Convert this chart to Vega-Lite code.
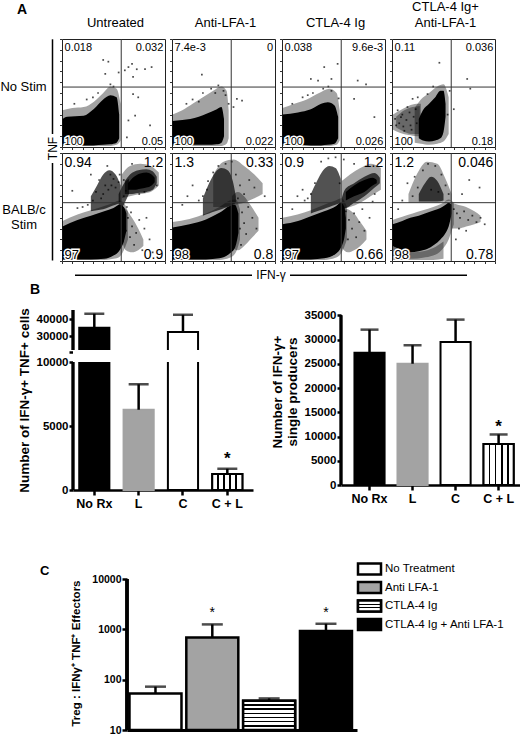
{
"$schema": "https://vega.github.io/schema/vega-lite/v6.json",
"padding": 0,
"background": "white",
"spacing": 0,
"config": {
  "font": "Liberation Sans",
  "view": {"stroke": null},
  "axis": {"grid": false, "domainColor": "black", "tickColor": "black", "labelColor": "black", "titleColor": "black", "labelOverlap": false, "labelSeparation": -40, "labelBound": false},
  "title": {"color": "black", "fontWeight": "normal"},
  "text": {"color": "black"}
},
"datasets": {
  "blobs": [
    {"p":"11","b":"a","k":"core","x":0.5,"hi":26,"lo":3},{"p":"11","b":"a","k":"core","x":5,"hi":28,"lo":2},{"p":"11","b":"a","k":"core","x":21,"hi":29,"lo":1.5},{"p":"11","b":"a","k":"core","x":30.6,"hi":35,"lo":1.5},{"p":"11","b":"a","k":"core","x":40,"hi":44,"lo":2},{"p":"11","b":"a","k":"core","x":47,"hi":48,"lo":2.5},{"p":"11","b":"a","k":"core","x":53,"hi":46,"lo":4},{"p":"11","b":"a","k":"core","x":55.5,"hi":30,"lo":8},
    {"p":"11","b":"m","k":"mist","x":0.5,"hi":34,"lo":1},{"p":"11","b":"m","k":"mist","x":10,"hi":36,"lo":1},{"p":"11","b":"m","k":"mist","x":21,"hi":37,"lo":1},{"p":"11","b":"m","k":"mist","x":31,"hi":42,"lo":1},{"p":"11","b":"m","k":"mist","x":40,"hi":50,"lo":1},{"p":"11","b":"m","k":"mist","x":47,"hi":56,"lo":1},{"p":"11","b":"m","k":"mist","x":53,"hi":54,"lo":2},{"p":"11","b":"m","k":"mist","x":57,"hi":40,"lo":6},
    {"p":"12","b":"a","k":"core","x":0.5,"hi":24,"lo":2.5},{"p":"12","b":"a","k":"core","x":10,"hi":25,"lo":2},{"p":"12","b":"a","k":"core","x":17.7,"hi":26,"lo":2},{"p":"12","b":"a","k":"core","x":26,"hi":28,"lo":2},{"p":"12","b":"a","k":"core","x":34,"hi":31,"lo":2},{"p":"12","b":"a","k":"core","x":43.5,"hi":35,"lo":2.5},{"p":"12","b":"a","k":"core","x":48,"hi":37,"lo":4},{"p":"12","b":"a","k":"core","x":50.5,"hi":26,"lo":10},
    {"p":"12","b":"m","k":"mist","x":0.5,"hi":30,"lo":1},{"p":"12","b":"m","k":"mist","x":10,"hi":34,"lo":1},{"p":"12","b":"m","k":"mist","x":20,"hi":40,"lo":1},{"p":"12","b":"m","k":"mist","x":30,"hi":46,"lo":1},{"p":"12","b":"m","k":"mist","x":40,"hi":52,"lo":1},{"p":"12","b":"m","k":"mist","x":48,"hi":56,"lo":1},{"p":"12","b":"m","k":"mist","x":53,"hi":52,"lo":3},{"p":"12","b":"m","k":"mist","x":55,"hi":34,"lo":8},
    {"p":"13","b":"a","k":"core","x":0.5,"hi":30,"lo":3},{"p":"13","b":"a","k":"core","x":15.5,"hi":32,"lo":2},{"p":"13","b":"a","k":"core","x":28,"hi":35,"lo":1.5},{"p":"13","b":"a","k":"core","x":38,"hi":40,"lo":1.5},{"p":"13","b":"a","k":"core","x":44.5,"hi":41.5,"lo":2},{"p":"13","b":"a","k":"core","x":51,"hi":38.5,"lo":3},{"p":"13","b":"a","k":"core","x":54.5,"hi":28,"lo":8},
    {"p":"13","b":"m","k":"mist","x":0.5,"hi":36,"lo":1},{"p":"13","b":"m","k":"mist","x":12,"hi":40,"lo":1},{"p":"13","b":"m","k":"mist","x":24,"hi":44,"lo":1},{"p":"13","b":"m","k":"mist","x":36,"hi":50,"lo":1},{"p":"13","b":"m","k":"mist","x":46,"hi":54,"lo":1},{"p":"13","b":"m","k":"mist","x":53,"hi":50,"lo":2},{"p":"13","b":"m","k":"mist","x":56,"hi":34,"lo":6},
    {"p":"14","b":"a","k":"core","x":26,"hi":26,"lo":8},{"p":"14","b":"a","k":"core","x":30,"hi":34,"lo":6},{"p":"14","b":"a","k":"core","x":36,"hi":40,"lo":5},{"p":"14","b":"a","k":"core","x":42,"hi":46,"lo":6},{"p":"14","b":"a","k":"core","x":47,"hi":52,"lo":8},{"p":"14","b":"a","k":"core","x":50,"hi":52,"lo":14},{"p":"14","b":"a","k":"core","x":52,"hi":40,"lo":28},
    {"p":"14","b":"h","k":"mist","x":1,"hi":30,"lo":16},{"p":"14","b":"h","k":"mist","x":8,"hi":34,"lo":13},{"p":"14","b":"h","k":"mist","x":16,"hi":38,"lo":11},{"p":"14","b":"h","k":"mist","x":24,"hi":40,"lo":10},{"p":"14","b":"h","k":"mist","x":28,"hi":40,"lo":10},
    {"p":"14","b":"n","k":"mist","x":4,"hi":28,"lo":18},{"p":"14","b":"n","k":"mist","x":12,"hi":34,"lo":14},{"p":"14","b":"n","k":"mist","x":20,"hi":37,"lo":12},{"p":"14","b":"n","k":"mist","x":27,"hi":38,"lo":12},
    {"p":"14","b":"m","k":"mist","x":22,"hi":36,"lo":4},{"p":"14","b":"m","k":"mist","x":28,"hi":44,"lo":3},{"p":"14","b":"m","k":"mist","x":36,"hi":50,"lo":2},{"p":"14","b":"m","k":"mist","x":44,"hi":56,"lo":3},{"p":"14","b":"m","k":"mist","x":50,"hi":58,"lo":5},{"p":"14","b":"m","k":"mist","x":55,"hi":46,"lo":12},
    {"p":"21","b":"a","k":"core","x":0.5,"hi":32,"lo":1.5},{"p":"21","b":"a","k":"core","x":15,"hi":38,"lo":1.5},{"p":"21","b":"a","k":"core","x":28,"hi":42,"lo":1.5},{"p":"21","b":"a","k":"core","x":41,"hi":46,"lo":2},{"p":"21","b":"a","k":"core","x":50,"hi":49,"lo":5},{"p":"21","b":"a","k":"core","x":56,"hi":52,"lo":10},{"p":"21","b":"a","k":"core","x":60,"hi":50,"lo":18},{"p":"21","b":"a","k":"core","x":62.5,"hi":44,"lo":28},
    {"p":"21","b":"b","k":"core","x":64,"hi":72,"lo":66},{"p":"21","b":"b","k":"core","x":70,"hi":78,"lo":66},{"p":"21","b":"b","k":"core","x":76,"hi":81,"lo":67},{"p":"21","b":"b","k":"core","x":82,"hi":82,"lo":68},{"p":"21","b":"b","k":"core","x":87,"hi":80,"lo":70},{"p":"21","b":"b","k":"core","x":90,"hi":77,"lo":73},
    {"p":"21","b":"h","k":"haze","x":61,"hi":74,"lo":62},{"p":"21","b":"h","k":"haze","x":66,"hi":80,"lo":62},{"p":"21","b":"h","k":"haze","x":74,"hi":84,"lo":63},{"p":"21","b":"h","k":"haze","x":82,"hi":85,"lo":64},{"p":"21","b":"h","k":"haze","x":88,"hi":83,"lo":66},{"p":"21","b":"h","k":"haze","x":92,"hi":78,"lo":72},
    {"p":"21","b":"c","k":"haze","x":55,"hi":62,"lo":50},{"p":"21","b":"c","k":"haze","x":58,"hi":68,"lo":50},{"p":"21","b":"c","k":"haze","x":62,"hi":74,"lo":56},{"p":"21","b":"c","k":"haze","x":65,"hi":76,"lo":62},
    {"p":"21","b":"d","k":"haze","x":28,"hi":60,"lo":46},{"p":"21","b":"d","k":"haze","x":34,"hi":70,"lo":47},{"p":"21","b":"d","k":"haze","x":40,"hi":80,"lo":48},{"p":"21","b":"d","k":"haze","x":46,"hi":84,"lo":50},{"p":"21","b":"d","k":"haze","x":52,"hi":80,"lo":52},{"p":"21","b":"d","k":"haze","x":57,"hi":70,"lo":54},
    {"p":"21","b":"f","k":"mist","x":58,"hi":50,"lo":20},{"p":"21","b":"f","k":"mist","x":62,"hi":48,"lo":10},{"p":"21","b":"f","k":"mist","x":68,"hi":40,"lo":8},{"p":"21","b":"f","k":"mist","x":74,"hi":30,"lo":10},{"p":"21","b":"f","k":"mist","x":79,"hi":20,"lo":14},
    {"p":"21","b":"g","k":"mist","x":0.5,"hi":37,"lo":1},{"p":"21","b":"g","k":"mist","x":15,"hi":43,"lo":1},{"p":"21","b":"g","k":"mist","x":28,"hi":47,"lo":1},{"p":"21","b":"g","k":"mist","x":41,"hi":51,"lo":1},{"p":"21","b":"g","k":"mist","x":50,"hi":54,"lo":2},{"p":"21","b":"g","k":"mist","x":56,"hi":56,"lo":4},{"p":"21","b":"g","k":"mist","x":60,"hi":54,"lo":10},{"p":"21","b":"g","k":"mist","x":64,"hi":46,"lo":20},
    {"p":"21","b":"e","k":"mist","x":58,"hi":80,"lo":58},{"p":"21","b":"e","k":"mist","x":66,"hi":88,"lo":60},{"p":"21","b":"e","k":"mist","x":76,"hi":90,"lo":62},{"p":"21","b":"e","k":"mist","x":86,"hi":88,"lo":64},{"p":"21","b":"e","k":"mist","x":94,"hi":82,"lo":70},
    {"p":"22","b":"a","k":"core","x":0.5,"hi":31,"lo":1.5},{"p":"22","b":"a","k":"core","x":17,"hi":34,"lo":1.5},{"p":"22","b":"a","k":"core","x":33,"hi":38.5,"lo":1.5},{"p":"22","b":"a","k":"core","x":46,"hi":44.6,"lo":2.5},{"p":"22","b":"a","k":"core","x":56,"hi":51,"lo":7},{"p":"22","b":"a","k":"core","x":61,"hi":52,"lo":12},{"p":"22","b":"a","k":"core","x":64.5,"hi":44,"lo":26},
    {"p":"22","b":"b","k":"haze","x":30,"hi":58,"lo":42},{"p":"22","b":"b","k":"haze","x":36,"hi":72,"lo":44},{"p":"22","b":"b","k":"haze","x":42,"hi":82,"lo":46},{"p":"22","b":"b","k":"haze","x":48,"hi":86,"lo":48},{"p":"22","b":"b","k":"haze","x":54,"hi":84,"lo":50},{"p":"22","b":"b","k":"haze","x":59,"hi":74,"lo":52},{"p":"22","b":"b","k":"haze","x":62,"hi":60,"lo":54},
    {"p":"22","b":"c","k":"mist","x":40,"hi":80,"lo":50},{"p":"22","b":"c","k":"mist","x":50,"hi":92,"lo":50},{"p":"22","b":"c","k":"mist","x":60,"hi":94,"lo":52},{"p":"22","b":"c","k":"mist","x":70,"hi":88,"lo":54},{"p":"22","b":"c","k":"mist","x":80,"hi":80,"lo":58},{"p":"22","b":"c","k":"mist","x":88,"hi":72,"lo":62},
    {"p":"22","b":"d","k":"mist","x":58,"hi":60,"lo":12},{"p":"22","b":"d","k":"mist","x":64,"hi":64,"lo":10},{"p":"22","b":"d","k":"mist","x":70,"hi":60,"lo":14},{"p":"22","b":"d","k":"mist","x":76,"hi":52,"lo":20},{"p":"22","b":"d","k":"mist","x":84,"hi":40,"lo":28},
    {"p":"22","b":"e","k":"mist","x":0.5,"hi":36,"lo":1},{"p":"22","b":"e","k":"mist","x":17,"hi":39,"lo":1},{"p":"22","b":"e","k":"mist","x":33,"hi":44,"lo":1},{"p":"22","b":"e","k":"mist","x":46,"hi":50,"lo":1},{"p":"22","b":"e","k":"mist","x":56,"hi":56,"lo":3},{"p":"22","b":"e","k":"mist","x":62,"hi":57,"lo":8},{"p":"22","b":"e","k":"mist","x":66,"hi":48,"lo":20},
    {"p":"23","b":"a","k":"core","x":0.5,"hi":34,"lo":1.5},{"p":"23","b":"a","k":"core","x":15.5,"hi":37,"lo":1.5},{"p":"23","b":"a","k":"core","x":28,"hi":41.5,"lo":1.5},{"p":"23","b":"a","k":"core","x":41,"hi":46,"lo":2.5},{"p":"23","b":"a","k":"core","x":52.6,"hi":51,"lo":7},{"p":"23","b":"a","k":"core","x":57,"hi":54,"lo":12},{"p":"23","b":"a","k":"core","x":60.6,"hi":50,"lo":22},{"p":"23","b":"a","k":"core","x":62,"hi":40,"lo":30},
    {"p":"23","b":"b","k":"core","x":62,"hi":64,"lo":56},{"p":"23","b":"b","k":"core","x":70,"hi":70,"lo":60},{"p":"23","b":"b","k":"core","x":80,"hi":75,"lo":64},{"p":"23","b":"b","k":"core","x":88,"hi":77,"lo":70},{"p":"23","b":"b","k":"core","x":92,"hi":75,"lo":72},
    {"p":"23","b":"s","k":"haze","x":58,"hi":58,"lo":50},{"p":"23","b":"s","k":"haze","x":61,"hi":66,"lo":49},{"p":"23","b":"s","k":"haze","x":70,"hi":72,"lo":54},{"p":"23","b":"s","k":"haze","x":80,"hi":78,"lo":60},{"p":"23","b":"s","k":"haze","x":90,"hi":81.5,"lo":68},{"p":"23","b":"s","k":"haze","x":95,"hi":77,"lo":72},
    {"p":"23","b":"c","k":"haze","x":28,"hi":62,"lo":44},{"p":"23","b":"c","k":"haze","x":34,"hi":74,"lo":46},{"p":"23","b":"c","k":"haze","x":40,"hi":84,"lo":48},{"p":"23","b":"c","k":"haze","x":46,"hi":88,"lo":50},{"p":"23","b":"c","k":"haze","x":52,"hi":86,"lo":52},{"p":"23","b":"c","k":"haze","x":57,"hi":76,"lo":54},
    {"p":"23","b":"d","k":"mist","x":58,"hi":50,"lo":12},{"p":"23","b":"d","k":"mist","x":64,"hi":48,"lo":8},{"p":"23","b":"d","k":"mist","x":70,"hi":44,"lo":10},{"p":"23","b":"d","k":"mist","x":76,"hi":36,"lo":14},{"p":"23","b":"d","k":"mist","x":82,"hi":28,"lo":20},
    {"p":"23","b":"e","k":"mist","x":58,"hi":74,"lo":48},{"p":"23","b":"e","k":"mist","x":66,"hi":80,"lo":50},{"p":"23","b":"e","k":"mist","x":76,"hi":86,"lo":54},{"p":"23","b":"e","k":"mist","x":86,"hi":90,"lo":60},{"p":"23","b":"e","k":"mist","x":96,"hi":86,"lo":66},
    {"p":"23","b":"f","k":"mist","x":0.5,"hi":40,"lo":1},{"p":"23","b":"f","k":"mist","x":15,"hi":43,"lo":1},{"p":"23","b":"f","k":"mist","x":28,"hi":47,"lo":1},{"p":"23","b":"f","k":"mist","x":41,"hi":52,"lo":1},{"p":"23","b":"f","k":"mist","x":52,"hi":56,"lo":3},{"p":"23","b":"f","k":"mist","x":58,"hi":58,"lo":8},{"p":"23","b":"f","k":"mist","x":63,"hi":50,"lo":20},
    {"p":"24","b":"a","k":"core","x":0.5,"hi":34,"lo":14},{"p":"24","b":"a","k":"core","x":10,"hi":37,"lo":10},{"p":"24","b":"a","k":"core","x":17.7,"hi":40,"lo":8},{"p":"24","b":"a","k":"core","x":26,"hi":42,"lo":9},{"p":"24","b":"a","k":"core","x":34,"hi":44.6,"lo":11},{"p":"24","b":"a","k":"core","x":41,"hi":47,"lo":15},{"p":"24","b":"a","k":"core","x":47,"hi":49,"lo":20},{"p":"24","b":"a","k":"core","x":52,"hi":52,"lo":26},{"p":"24","b":"a","k":"core","x":55,"hi":54,"lo":32},{"p":"24","b":"a","k":"core","x":58,"hi":52,"lo":44},
    {"p":"24","b":"b","k":"haze","x":26,"hi":62,"lo":55},{"p":"24","b":"b","k":"haze","x":32,"hi":72,"lo":55},{"p":"24","b":"b","k":"haze","x":38,"hi":78,"lo":55},{"p":"24","b":"b","k":"haze","x":44,"hi":74,"lo":55},{"p":"24","b":"b","k":"haze","x":50,"hi":62,"lo":56},
    {"p":"24","b":"c","k":"mist","x":0.5,"hi":14,"lo":1},{"p":"24","b":"c","k":"mist","x":10,"hi":10,"lo":1},{"p":"24","b":"c","k":"mist","x":20,"hi":8,"lo":1},{"p":"24","b":"c","k":"mist","x":30,"hi":9,"lo":1},{"p":"24","b":"c","k":"mist","x":40,"hi":12,"lo":1},{"p":"24","b":"c","k":"mist","x":50,"hi":18,"lo":2},
    {"p":"24","b":"d","k":"mist","x":58,"hi":54,"lo":30},{"p":"24","b":"d","k":"mist","x":64,"hi":52,"lo":30},{"p":"24","b":"d","k":"mist","x":72,"hi":50,"lo":32},{"p":"24","b":"d","k":"mist","x":80,"hi":46,"lo":34},{"p":"24","b":"d","k":"mist","x":86,"hi":42,"lo":36},
    {"p":"24","b":"e","k":"mist","x":16,"hi":62,"lo":54},{"p":"24","b":"e","k":"mist","x":24,"hi":80,"lo":54},{"p":"24","b":"e","k":"mist","x":34,"hi":92,"lo":54},{"p":"24","b":"e","k":"mist","x":44,"hi":90,"lo":54},{"p":"24","b":"e","k":"mist","x":52,"hi":76,"lo":55},{"p":"24","b":"e","k":"mist","x":58,"hi":62,"lo":56},
    {"p":"24","b":"f","k":"mist","x":0.5,"hi":38,"lo":4},{"p":"24","b":"f","k":"mist","x":10,"hi":41,"lo":2},{"p":"24","b":"f","k":"mist","x":20,"hi":44,"lo":2},{"p":"24","b":"f","k":"mist","x":30,"hi":47,"lo":3},{"p":"24","b":"f","k":"mist","x":40,"hi":50,"lo":5},{"p":"24","b":"f","k":"mist","x":48,"hi":53,"lo":10},{"p":"24","b":"f","k":"mist","x":55,"hi":57,"lo":20},{"p":"24","b":"f","k":"mist","x":60,"hi":54,"lo":34}
  ],
  "dots": [
    {"p":"11","x":61,"y":71},{"p":"11","x":64.5,"y":74},{"p":"11","x":68,"y":77},{"p":"11","x":72.6,"y":72},{"p":"11","x":80.6,"y":72},{"p":"11","x":87,"y":74},{"p":"11","x":69,"y":65},{"p":"11","x":40,"y":80.6},{"p":"11","x":45,"y":79},{"p":"11","x":42,"y":67.7},{"p":"11","x":55,"y":69},{"p":"11","x":69,"y":49},{"p":"11","x":74,"y":46},{"p":"11","x":71,"y":29},{"p":"11","x":64.5,"y":24.6},{"p":"11","x":85.5,"y":20},{"p":"11","x":63,"y":9},{"p":"11","x":35,"y":50},{"p":"11","x":24,"y":44},{"p":"11","x":12,"y":40},{"p":"11","x":50,"y":56},{"p":"11","x":47,"y":58},{"p":"11","x":30,"y":46},
    {"p":"12","x":29,"y":67},{"p":"12","x":63,"y":44.6},{"p":"12","x":68,"y":43},{"p":"12","x":59.7,"y":37},{"p":"12","x":20,"y":44},{"p":"12","x":30,"y":50},{"p":"12","x":38,"y":54},{"p":"12","x":45,"y":57},{"p":"12","x":50,"y":52},{"p":"12","x":52,"y":48},{"p":"12","x":26,"y":42},{"p":"12","x":14,"y":40},{"p":"12","x":42,"y":50},{"p":"12","x":55,"y":40},
    {"p":"13","x":41,"y":74},{"p":"13","x":48,"y":63},{"p":"13","x":28,"y":63},{"p":"13","x":54,"y":77},{"p":"13","x":35,"y":61.5},{"p":"13","x":70,"y":44.6},{"p":"13","x":73.5,"y":61.5},{"p":"13","x":81.6,"y":58},{"p":"13","x":89.7,"y":27.7},{"p":"13","x":10,"y":40},{"p":"13","x":20,"y":46},{"p":"13","x":30,"y":50},{"p":"13","x":40,"y":54},{"p":"13","x":48,"y":52},{"p":"13","x":55,"y":45},{"p":"13","x":25,"y":48},{"p":"13","x":45,"y":56},
    {"p":"14","x":46,"y":78},{"p":"14","x":73,"y":63},{"p":"14","x":76,"y":54},{"p":"14","x":60,"y":35},{"p":"14","x":4,"y":20},{"p":"14","x":8.7,"y":27.7},{"p":"14","x":15,"y":37},{"p":"14","x":20,"y":44.6},{"p":"14","x":18,"y":20},{"p":"14","x":12,"y":15},{"p":"14","x":25,"y":46},{"p":"14","x":34.5,"y":49},{"p":"14","x":5.5,"y":34},{"p":"14","x":56,"y":52},{"p":"14","x":54,"y":30},{"p":"14","x":40,"y":56},{"p":"14","x":3,"y":26},{"p":"14","x":7,"y":22},{"p":"14","x":10,"y":30},{"p":"14","x":14,"y":25},{"p":"14","x":17,"y":32},{"p":"14","x":21,"y":28},{"p":"14","x":23,"y":35},{"p":"14","x":11,"y":19},{"p":"14","x":19,"y":16},{"p":"14","x":24,"y":22},
    {"p":"21","x":40,"y":62},{"p":"21","x":45,"y":66},{"p":"21","x":48,"y":70},{"p":"21","x":52,"y":68},{"p":"21","x":55,"y":73},{"p":"21","x":50,"y":76},{"p":"21","x":42,"y":70},{"p":"21","x":38,"y":58},{"p":"21","x":30,"y":56},{"p":"21","x":25,"y":52},{"p":"21","x":20,"y":50},{"p":"21","x":15,"y":49},{"p":"21","x":33,"y":64},{"p":"21","x":47,"y":80},{"p":"21","x":56,"y":80},{"p":"21","x":36,"y":75},{"p":"21","x":10,"y":65},{"p":"21","x":28,"y":80},{"p":"21","x":44,"y":88},{"p":"21","x":60,"y":35},{"p":"21","x":62,"y":28},{"p":"21","x":64,"y":40},{"p":"21","x":66,"y":22},{"p":"21","x":68,"y":32},{"p":"21","x":70,"y":15},{"p":"21","x":72,"y":26},{"p":"21","x":75,"y":38},{"p":"21","x":78,"y":10},{"p":"21","x":80,"y":30},{"p":"21","x":85,"y":20},{"p":"21","x":61,"y":45},{"p":"21","x":63,"y":50},{"p":"21","x":59,"y":18},{"p":"21","x":67,"y":45},{"p":"21","x":82,"y":40},{"p":"21","x":88,"y":8},{"p":"21","x":60,"y":60},{"p":"21","x":62,"y":65},{"p":"21","x":75,"y":62},{"p":"21","x":80,"y":64},{"p":"21","x":92,"y":70},{"p":"21","x":68,"y":90},{"p":"21","x":60,"y":75},
    {"p":"22","x":30,"y":60},{"p":"22","x":34,"y":66},{"p":"22","x":26,"y":56},{"p":"22","x":45,"y":88},{"p":"22","x":52,"y":90},{"p":"22","x":40,"y":82},{"p":"22","x":62,"y":80},{"p":"22","x":66,"y":70},{"p":"22","x":70,"y":62},{"p":"22","x":64,"y":58},{"p":"22","x":75,"y":75},{"p":"22","x":80,"y":68},{"p":"22","x":68,"y":45},{"p":"22","x":70,"y":35},{"p":"22","x":72,"y":25},{"p":"22","x":74,"y":50},{"p":"22","x":78,"y":40},{"p":"22","x":82,"y":30},{"p":"22","x":66,"y":30},{"p":"22","x":67,"y":15},{"p":"22","x":90,"y":60},{"p":"22","x":20,"y":70},{"p":"22","x":15,"y":60},{"p":"22","x":10,"y":52},{"p":"22","x":58,"y":92},{"p":"22","x":35,"y":74},
    {"p":"23","x":28,"y":62},{"p":"23","x":25,"y":58},{"p":"23","x":32,"y":72},{"p":"23","x":22,"y":56},{"p":"23","x":15,"y":60},{"p":"23","x":38,"y":92},{"p":"23","x":45,"y":95},{"p":"23","x":52,"y":96},{"p":"23","x":60,"y":94},{"p":"23","x":56,"y":72},{"p":"23","x":62,"y":46},{"p":"23","x":65,"y":38},{"p":"23","x":68,"y":30},{"p":"23","x":70,"y":44},{"p":"23","x":72,"y":22},{"p":"23","x":75,"y":36},{"p":"23","x":78,"y":48},{"p":"23","x":80,"y":28},{"p":"23","x":64,"y":20},{"p":"23","x":85,"y":40},{"p":"23","x":90,"y":62},{"p":"23","x":88,"y":55},{"p":"23","x":70,"y":90},{"p":"23","x":10,"y":48},{"p":"23","x":20,"y":66},
    {"p":"24","x":20,"y":60},{"p":"24","x":25,"y":68},{"p":"24","x":30,"y":84},{"p":"24","x":35,"y":90},{"p":"24","x":42,"y":88},{"p":"24","x":48,"y":80},{"p":"24","x":52,"y":70},{"p":"24","x":55,"y":62},{"p":"24","x":15,"y":72},{"p":"24","x":22,"y":78},{"p":"24","x":38,"y":66},{"p":"24","x":45,"y":64},{"p":"24","x":10,"y":56},{"p":"24","x":60,"y":48},{"p":"24","x":63,"y":44},{"p":"24","x":66,"y":40},{"p":"24","x":70,"y":46},{"p":"24","x":74,"y":38},{"p":"24","x":78,"y":42},{"p":"24","x":82,"y":36},{"p":"24","x":86,"y":40},{"p":"24","x":90,"y":34},{"p":"24","x":65,"y":30},{"p":"24","x":72,"y":28},{"p":"24","x":62,"y":20},{"p":"24","x":68,"y":62},{"p":"24","x":75,"y":75},{"p":"24","x":85,"y":68},{"p":"24","x":6,"y":48}
  ],
  "quads": [
    {"p":"11","q":"UL","v":"0.018"},{"p":"11","q":"UR","v":"0.032"},{"p":"11","q":"LL","v":"100"},{"p":"11","q":"LR","v":"0.05"},
    {"p":"12","q":"UL","v":"7.4e-3"},{"p":"12","q":"UR","v":"0"},{"p":"12","q":"LL","v":"100"},{"p":"12","q":"LR","v":"0.022"},
    {"p":"13","q":"UL","v":"0.038"},{"p":"13","q":"UR","v":"9.6e-3"},{"p":"13","q":"LL","v":"100"},{"p":"13","q":"LR","v":"0.026"},
    {"p":"14","q":"UL","v":"0.11"},{"p":"14","q":"UR","v":"0.036"},{"p":"14","q":"LL","v":"100"},{"p":"14","q":"LR","v":"0.18"},
    {"p":"21","q":"UL","v":"0.94"},{"p":"21","q":"UR","v":"1.2"},{"p":"21","q":"LL","v":"97"},{"p":"21","q":"LR","v":"0.9"},
    {"p":"22","q":"UL","v":"1.3"},{"p":"22","q":"UR","v":"0.33"},{"p":"22","q":"LL","v":"98"},{"p":"22","q":"LR","v":"0.8"},
    {"p":"23","q":"UL","v":"0.9"},{"p":"23","q":"UR","v":"1.2"},{"p":"23","q":"LL","v":"97"},{"p":"23","q":"LR","v":"0.66"},
    {"p":"24","q":"UL","v":"1.2"},{"p":"24","q":"UR","v":"0.046"},{"p":"24","q":"LL","v":"98"},{"p":"24","q":"LR","v":"0.78"}
  ]
},
"vconcat": [
  {"hconcat": [
    {"width": 57, "height": 38, "data": {"values": [{}]},
     "mark": {"type": "text", "text": "A", "fontSize": 14, "fontWeight": "bold", "align": "left", "baseline": "alphabetic"},
     "encoding": {"x": {"datum": 17, "type": "quantitative", "scale": {"domain": [0, 57], "nice": false, "zero": false}, "axis": null},
                  "y": {"datum": 13.5, "type": "quantitative", "scale": {"domain": [38, 0], "nice": false, "zero": false}, "axis": null}}},
    {"width": 103, "height": 38, "data": {"values": [{}]},
     "mark": {"type": "text", "text": "Untreated", "fontSize": 13, "align": "center", "baseline": "alphabetic"},
     "encoding": {"x": {"datum": 51.5, "type": "quantitative", "scale": {"domain": [0, 103], "nice": false, "zero": false}, "axis": null},
                  "y": {"datum": 27, "type": "quantitative", "scale": {"domain": [38, 0], "nice": false, "zero": false}, "axis": null}}},
    {"width": 103, "height": 38, "data": {"values": [{}]},
     "mark": {"type": "text", "text": "Anti-LFA-1", "fontSize": 13, "align": "center", "baseline": "alphabetic"},
     "encoding": {"x": {"datum": 51.5, "type": "quantitative", "scale": {"domain": [0, 103], "nice": false, "zero": false}, "axis": null},
                  "y": {"datum": 27, "type": "quantitative", "scale": {"domain": [38, 0], "nice": false, "zero": false}, "axis": null}}},
    {"width": 103, "height": 38, "data": {"values": [{}]},
     "mark": {"type": "text", "text": "CTLA-4 Ig", "fontSize": 13, "align": "center", "baseline": "alphabetic"},
     "encoding": {"x": {"datum": 51.5, "type": "quantitative", "scale": {"domain": [0, 103], "nice": false, "zero": false}, "axis": null},
                  "y": {"datum": 27, "type": "quantitative", "scale": {"domain": [38, 0], "nice": false, "zero": false}, "axis": null}}},
    {"width": 103, "height": 38, "data": {"values": [{}]},
     "mark": {"type": "text", "text": ["CTLA-4 Ig+", "Anti-LFA-1"], "lineHeight": 16, "fontSize": 13, "align": "center", "baseline": "top"},
     "encoding": {"x": {"datum": 51.5, "type": "quantitative", "scale": {"domain": [0, 103], "nice": false, "zero": false}, "axis": null},
                  "y": {"datum": 0.5, "type": "quantitative", "scale": {"domain": [38, 0], "nice": false, "zero": false}, "axis": null}}}
  ], "spacing": 7, "bounds": "flush"},

  {"hconcat": [
    {"width": 61.5, "height": 225, "data": {"values": [{}]},
     "layer": [
       {"mark": {"type": "text", "text": "No Stim", "fontSize": 13, "align": "center", "baseline": "middle"},
        "encoding": {"x": {"datum": 23.5, "type": "quantitative", "scale": {"domain": [0, 61.5], "nice": false, "zero": false}, "axis": null},
                     "y": {"datum": 48, "type": "quantitative", "scale": {"domain": [225, 0], "nice": false, "zero": false}, "axis": null}}},
       {"mark": {"type": "text", "text": ["BALB/c", "Stim"], "lineHeight": 15, "fontSize": 13, "align": "center", "baseline": "middle"},
        "encoding": {"x": {"datum": 24}, "y": {"datum": 170.5}}},
       {"mark": {"type": "rule", "strokeWidth": 1.5, "color": "black"}, "encoding": {"x": {"datum": 52.5}, "y": {"datum": 0.3}, "y2": {"datum": 95}}},
       {"mark": {"type": "text", "text": "TNF", "angle": 270, "fontSize": 12, "align": "center", "baseline": "middle"}, "encoding": {"x": {"datum": 52.5}, "y": {"datum": 109.5}}},
       {"mark": {"type": "rule", "strokeWidth": 1.5, "color": "black"}, "encoding": {"x": {"datum": 52.5}, "y": {"datum": 124}, "y2": {"datum": 221.5}}}
     ]},
    {"vconcat": [
      {"hconcat": [
        {"width": 103, "height": 108, "view": {"stroke": "#222", "strokeWidth": 1}, "data": {"values": [{}]},
         "layer": [
           {"data": {"name": "blobs"}, "transform": [{"filter": "datum.p == '11'"}], "mark": {"type": "area", "interpolate": "monotone", "color": "black", "clip": true},
            "encoding": {"x": {"field": "x", "type": "quantitative", "scale": {"domain": [0, 100], "nice": false, "zero": false}, "axis": {"tickCount": 12, "labels": false, "domain": false, "grid": false, "tickSize": 2.5, "tickWidth": 1, "tickColor": "#333", "title": null}},
                         "y": {"field": "hi", "type": "quantitative", "scale": {"domain": [0, 100], "nice": false, "zero": false}, "axis": {"tickCount": 12, "labels": false, "domain": false, "grid": false, "tickSize": 2.5, "tickWidth": 1, "tickColor": "#333", "title": null}},
                         "y2": {"field": "lo"}, "detail": {"field": "b"},
                         "opacity": {"field": "k", "type": "nominal", "scale": {"domain": ["core", "haze", "mist"], "range": [1, 0.36, 0.14]}, "legend": null}}},
           {"data": {"name": "dots"}, "transform": [{"filter": "datum.p == '11'"}], "mark": {"type": "square", "size": 3, "color": "black", "clip": true}, "encoding": {"x": {"field": "x", "type": "quantitative"}, "y": {"field": "y", "type": "quantitative"}}},
           {"mark": {"type": "rule", "color": "#333", "strokeWidth": 1}, "encoding": {"x": {"datum": 57.5}}},
           {"mark": {"type": "rule", "color": "#333", "strokeWidth": 1}, "encoding": {"y": {"datum": 55.5}}},
           {"data": {"name": "quads"}, "transform": [{"filter": "datum.p == '11' && datum.q == 'UL'"}], "mark": {"type": "text", "align": "left", "baseline": "top", "fontSize": 11}, "encoding": {"x": {"datum": 2.5}, "y": {"datum": 97.5}, "text": {"field": "v"}}},
           {"data": {"name": "quads"}, "transform": [{"filter": "datum.p == '11' && datum.q == 'UR'"}], "mark": {"type": "text", "align": "right", "baseline": "top", "fontSize": 11}, "encoding": {"x": {"datum": 98.3}, "y": {"datum": 97.5}, "text": {"field": "v"}}},
           {"data": {"name": "quads"}, "transform": [{"filter": "datum.p == '11' && datum.q == 'LR'"}], "mark": {"type": "text", "align": "right", "baseline": "alphabetic", "fontSize": 11}, "encoding": {"x": {"datum": 98.3}, "y": {"datum": 2}, "text": {"field": "v"}}},
           {"data": {"name": "quads"}, "transform": [{"filter": "datum.p == '11' && datum.q == 'LL'"}], "mark": {"type": "text", "align": "left", "baseline": "alphabetic", "fontSize": 11, "color": "white", "stroke": "white", "strokeWidth": 3}, "encoding": {"x": {"datum": 2.5}, "y": {"datum": 2}, "text": {"field": "v"}}},
           {"data": {"name": "quads"}, "transform": [{"filter": "datum.p == '11' && datum.q == 'LL'"}], "mark": {"type": "text", "align": "left", "baseline": "alphabetic", "fontSize": 11}, "encoding": {"x": {"datum": 2.5}, "y": {"datum": 2}, "text": {"field": "v"}}}
         ]},
        {"width": 103, "height": 108, "view": {"stroke": "#222", "strokeWidth": 1}, "data": {"values": [{}]},
         "layer": [
           {"data": {"name": "blobs"}, "transform": [{"filter": "datum.p == '12'"}], "mark": {"type": "area", "interpolate": "monotone", "color": "black", "clip": true},
            "encoding": {"x": {"field": "x", "type": "quantitative", "scale": {"domain": [0, 100], "nice": false, "zero": false}, "axis": {"tickCount": 12, "labels": false, "domain": false, "grid": false, "tickSize": 2.5, "tickWidth": 1, "tickColor": "#333", "title": null}},
                         "y": {"field": "hi", "type": "quantitative", "scale": {"domain": [0, 100], "nice": false, "zero": false}, "axis": {"tickCount": 12, "labels": false, "domain": false, "grid": false, "tickSize": 2.5, "tickWidth": 1, "tickColor": "#333", "title": null}},
                         "y2": {"field": "lo"}, "detail": {"field": "b"},
                         "opacity": {"field": "k", "type": "nominal", "scale": {"domain": ["core", "haze", "mist"], "range": [1, 0.36, 0.14]}, "legend": null}}},
           {"data": {"name": "dots"}, "transform": [{"filter": "datum.p == '12'"}], "mark": {"type": "square", "size": 3, "color": "black", "clip": true}, "encoding": {"x": {"field": "x", "type": "quantitative"}, "y": {"field": "y", "type": "quantitative"}}},
           {"mark": {"type": "rule", "color": "#333", "strokeWidth": 1}, "encoding": {"x": {"datum": 57.5}}},
           {"mark": {"type": "rule", "color": "#333", "strokeWidth": 1}, "encoding": {"y": {"datum": 55.5}}},
           {"data": {"name": "quads"}, "transform": [{"filter": "datum.p == '12' && datum.q == 'UL'"}], "mark": {"type": "text", "align": "left", "baseline": "top", "fontSize": 11}, "encoding": {"x": {"datum": 2.5}, "y": {"datum": 97.5}, "text": {"field": "v"}}},
           {"data": {"name": "quads"}, "transform": [{"filter": "datum.p == '12' && datum.q == 'UR'"}], "mark": {"type": "text", "align": "right", "baseline": "top", "fontSize": 11}, "encoding": {"x": {"datum": 98.3}, "y": {"datum": 97.5}, "text": {"field": "v"}}},
           {"data": {"name": "quads"}, "transform": [{"filter": "datum.p == '12' && datum.q == 'LR'"}], "mark": {"type": "text", "align": "right", "baseline": "alphabetic", "fontSize": 11}, "encoding": {"x": {"datum": 98.3}, "y": {"datum": 2}, "text": {"field": "v"}}},
           {"data": {"name": "quads"}, "transform": [{"filter": "datum.p == '12' && datum.q == 'LL'"}], "mark": {"type": "text", "align": "left", "baseline": "alphabetic", "fontSize": 11, "color": "white", "stroke": "white", "strokeWidth": 3}, "encoding": {"x": {"datum": 2.5}, "y": {"datum": 2}, "text": {"field": "v"}}},
           {"data": {"name": "quads"}, "transform": [{"filter": "datum.p == '12' && datum.q == 'LL'"}], "mark": {"type": "text", "align": "left", "baseline": "alphabetic", "fontSize": 11}, "encoding": {"x": {"datum": 2.5}, "y": {"datum": 2}, "text": {"field": "v"}}}
         ]},
        {"width": 103, "height": 108, "view": {"stroke": "#222", "strokeWidth": 1}, "data": {"values": [{}]},
         "layer": [
           {"data": {"name": "blobs"}, "transform": [{"filter": "datum.p == '13'"}], "mark": {"type": "area", "interpolate": "monotone", "color": "black", "clip": true},
            "encoding": {"x": {"field": "x", "type": "quantitative", "scale": {"domain": [0, 100], "nice": false, "zero": false}, "axis": {"tickCount": 12, "labels": false, "domain": false, "grid": false, "tickSize": 2.5, "tickWidth": 1, "tickColor": "#333", "title": null}},
                         "y": {"field": "hi", "type": "quantitative", "scale": {"domain": [0, 100], "nice": false, "zero": false}, "axis": {"tickCount": 12, "labels": false, "domain": false, "grid": false, "tickSize": 2.5, "tickWidth": 1, "tickColor": "#333", "title": null}},
                         "y2": {"field": "lo"}, "detail": {"field": "b"},
                         "opacity": {"field": "k", "type": "nominal", "scale": {"domain": ["core", "haze", "mist"], "range": [1, 0.36, 0.14]}, "legend": null}}},
           {"data": {"name": "dots"}, "transform": [{"filter": "datum.p == '13'"}], "mark": {"type": "square", "size": 3, "color": "black", "clip": true}, "encoding": {"x": {"field": "x", "type": "quantitative"}, "y": {"field": "y", "type": "quantitative"}}},
           {"mark": {"type": "rule", "color": "#333", "strokeWidth": 1}, "encoding": {"x": {"datum": 57.5}}},
           {"mark": {"type": "rule", "color": "#333", "strokeWidth": 1}, "encoding": {"y": {"datum": 55.5}}},
           {"data": {"name": "quads"}, "transform": [{"filter": "datum.p == '13' && datum.q == 'UL'"}], "mark": {"type": "text", "align": "left", "baseline": "top", "fontSize": 11}, "encoding": {"x": {"datum": 2.5}, "y": {"datum": 97.5}, "text": {"field": "v"}}},
           {"data": {"name": "quads"}, "transform": [{"filter": "datum.p == '13' && datum.q == 'UR'"}], "mark": {"type": "text", "align": "right", "baseline": "top", "fontSize": 11}, "encoding": {"x": {"datum": 98.3}, "y": {"datum": 97.5}, "text": {"field": "v"}}},
           {"data": {"name": "quads"}, "transform": [{"filter": "datum.p == '13' && datum.q == 'LR'"}], "mark": {"type": "text", "align": "right", "baseline": "alphabetic", "fontSize": 11}, "encoding": {"x": {"datum": 98.3}, "y": {"datum": 2}, "text": {"field": "v"}}},
           {"data": {"name": "quads"}, "transform": [{"filter": "datum.p == '13' && datum.q == 'LL'"}], "mark": {"type": "text", "align": "left", "baseline": "alphabetic", "fontSize": 11, "color": "white", "stroke": "white", "strokeWidth": 3}, "encoding": {"x": {"datum": 2.5}, "y": {"datum": 2}, "text": {"field": "v"}}},
           {"data": {"name": "quads"}, "transform": [{"filter": "datum.p == '13' && datum.q == 'LL'"}], "mark": {"type": "text", "align": "left", "baseline": "alphabetic", "fontSize": 11}, "encoding": {"x": {"datum": 2.5}, "y": {"datum": 2}, "text": {"field": "v"}}}
         ]},
        {"width": 103, "height": 108, "view": {"stroke": "#222", "strokeWidth": 1}, "data": {"values": [{}]},
         "layer": [
           {"data": {"name": "blobs"}, "transform": [{"filter": "datum.p == '14'"}], "mark": {"type": "area", "interpolate": "monotone", "color": "black", "clip": true},
            "encoding": {"x": {"field": "x", "type": "quantitative", "scale": {"domain": [0, 100], "nice": false, "zero": false}, "axis": {"tickCount": 12, "labels": false, "domain": false, "grid": false, "tickSize": 2.5, "tickWidth": 1, "tickColor": "#333", "title": null}},
                         "y": {"field": "hi", "type": "quantitative", "scale": {"domain": [0, 100], "nice": false, "zero": false}, "axis": {"tickCount": 12, "labels": false, "domain": false, "grid": false, "tickSize": 2.5, "tickWidth": 1, "tickColor": "#333", "title": null}},
                         "y2": {"field": "lo"}, "detail": {"field": "b"},
                         "opacity": {"field": "k", "type": "nominal", "scale": {"domain": ["core", "haze", "mist"], "range": [1, 0.36, 0.14]}, "legend": null}}},
           {"data": {"name": "dots"}, "transform": [{"filter": "datum.p == '14'"}], "mark": {"type": "square", "size": 3, "color": "black", "clip": true}, "encoding": {"x": {"field": "x", "type": "quantitative"}, "y": {"field": "y", "type": "quantitative"}}},
           {"mark": {"type": "rule", "color": "#333", "strokeWidth": 1}, "encoding": {"x": {"datum": 57.5}}},
           {"mark": {"type": "rule", "color": "#333", "strokeWidth": 1}, "encoding": {"y": {"datum": 55.5}}},
           {"data": {"name": "quads"}, "transform": [{"filter": "datum.p == '14' && datum.q == 'UL'"}], "mark": {"type": "text", "align": "left", "baseline": "top", "fontSize": 11}, "encoding": {"x": {"datum": 2.5}, "y": {"datum": 97.5}, "text": {"field": "v"}}},
           {"data": {"name": "quads"}, "transform": [{"filter": "datum.p == '14' && datum.q == 'UR'"}], "mark": {"type": "text", "align": "right", "baseline": "top", "fontSize": 11}, "encoding": {"x": {"datum": 98.3}, "y": {"datum": 97.5}, "text": {"field": "v"}}},
           {"data": {"name": "quads"}, "transform": [{"filter": "datum.p == '14' && datum.q == 'LR'"}], "mark": {"type": "text", "align": "right", "baseline": "alphabetic", "fontSize": 11}, "encoding": {"x": {"datum": 98.3}, "y": {"datum": 2}, "text": {"field": "v"}}},
           {"data": {"name": "quads"}, "transform": [{"filter": "datum.p == '14' && datum.q == 'LL'"}], "mark": {"type": "text", "align": "left", "baseline": "alphabetic", "fontSize": 11, "color": "white", "stroke": "white", "strokeWidth": 3}, "encoding": {"x": {"datum": 2.5}, "y": {"datum": 2}, "text": {"field": "v"}}},
           {"data": {"name": "quads"}, "transform": [{"filter": "datum.p == '14' && datum.q == 'LL'"}], "mark": {"type": "text", "align": "left", "baseline": "alphabetic", "fontSize": 11}, "encoding": {"x": {"datum": 2.5}, "y": {"datum": 2}, "text": {"field": "v"}}}
         ]}
      ], "spacing": 7, "bounds": "flush"},
      {"hconcat": [
        {"width": 103, "height": 108, "view": {"stroke": "#222", "strokeWidth": 1}, "data": {"values": [{}]},
         "layer": [
           {"data": {"name": "blobs"}, "transform": [{"filter": "datum.p == '21'"}], "mark": {"type": "area", "interpolate": "monotone", "color": "black", "clip": true},
            "encoding": {"x": {"field": "x", "type": "quantitative", "scale": {"domain": [0, 100], "nice": false, "zero": false}, "axis": {"tickCount": 12, "labels": false, "domain": false, "grid": false, "tickSize": 2.5, "tickWidth": 1, "tickColor": "#333", "title": null}},
                         "y": {"field": "hi", "type": "quantitative", "scale": {"domain": [0, 100], "nice": false, "zero": false}, "axis": {"tickCount": 12, "labels": false, "domain": false, "grid": false, "tickSize": 2.5, "tickWidth": 1, "tickColor": "#333", "title": null}},
                         "y2": {"field": "lo"}, "detail": {"field": "b"},
                         "opacity": {"field": "k", "type": "nominal", "scale": {"domain": ["core", "haze", "mist"], "range": [1, 0.36, 0.14]}, "legend": null}}},
           {"data": {"name": "dots"}, "transform": [{"filter": "datum.p == '21'"}], "mark": {"type": "square", "size": 3, "color": "black", "clip": true}, "encoding": {"x": {"field": "x", "type": "quantitative"}, "y": {"field": "y", "type": "quantitative"}}},
           {"mark": {"type": "rule", "color": "#333", "strokeWidth": 1}, "encoding": {"x": {"datum": 57.5}}},
           {"mark": {"type": "rule", "color": "#333", "strokeWidth": 1}, "encoding": {"y": {"datum": 54}}},
           {"data": {"name": "quads"}, "transform": [{"filter": "datum.p == '21' && datum.q == 'UL'"}], "mark": {"type": "text", "align": "left", "baseline": "top", "fontSize": 14}, "encoding": {"x": {"datum": 2.5}, "y": {"datum": 97.5}, "text": {"field": "v"}}},
           {"data": {"name": "quads"}, "transform": [{"filter": "datum.p == '21' && datum.q == 'UR'"}], "mark": {"type": "text", "align": "right", "baseline": "top", "fontSize": 14}, "encoding": {"x": {"datum": 98.3}, "y": {"datum": 97.5}, "text": {"field": "v"}}},
           {"data": {"name": "quads"}, "transform": [{"filter": "datum.p == '21' && datum.q == 'LR'"}], "mark": {"type": "text", "align": "right", "baseline": "alphabetic", "fontSize": 14}, "encoding": {"x": {"datum": 98.3}, "y": {"datum": 2}, "text": {"field": "v"}}},
           {"data": {"name": "quads"}, "transform": [{"filter": "datum.p == '21' && datum.q == 'LL'"}], "mark": {"type": "text", "align": "left", "baseline": "alphabetic", "fontSize": 13, "color": "white", "stroke": "white", "strokeWidth": 3}, "encoding": {"x": {"datum": 2.5}, "y": {"datum": 2}, "text": {"field": "v"}}},
           {"data": {"name": "quads"}, "transform": [{"filter": "datum.p == '21' && datum.q == 'LL'"}], "mark": {"type": "text", "align": "left", "baseline": "alphabetic", "fontSize": 13}, "encoding": {"x": {"datum": 2.5}, "y": {"datum": 2}, "text": {"field": "v"}}}
         ]},
        {"width": 103, "height": 108, "view": {"stroke": "#222", "strokeWidth": 1}, "data": {"values": [{}]},
         "layer": [
           {"data": {"name": "blobs"}, "transform": [{"filter": "datum.p == '22'"}], "mark": {"type": "area", "interpolate": "monotone", "color": "black", "clip": true},
            "encoding": {"x": {"field": "x", "type": "quantitative", "scale": {"domain": [0, 100], "nice": false, "zero": false}, "axis": {"tickCount": 12, "labels": false, "domain": false, "grid": false, "tickSize": 2.5, "tickWidth": 1, "tickColor": "#333", "title": null}},
                         "y": {"field": "hi", "type": "quantitative", "scale": {"domain": [0, 100], "nice": false, "zero": false}, "axis": {"tickCount": 12, "labels": false, "domain": false, "grid": false, "tickSize": 2.5, "tickWidth": 1, "tickColor": "#333", "title": null}},
                         "y2": {"field": "lo"}, "detail": {"field": "b"},
                         "opacity": {"field": "k", "type": "nominal", "scale": {"domain": ["core", "haze", "mist"], "range": [1, 0.36, 0.14]}, "legend": null}}},
           {"data": {"name": "dots"}, "transform": [{"filter": "datum.p == '22'"}], "mark": {"type": "square", "size": 3, "color": "black", "clip": true}, "encoding": {"x": {"field": "x", "type": "quantitative"}, "y": {"field": "y", "type": "quantitative"}}},
           {"mark": {"type": "rule", "color": "#333", "strokeWidth": 1}, "encoding": {"x": {"datum": 57.5}}},
           {"mark": {"type": "rule", "color": "#333", "strokeWidth": 1}, "encoding": {"y": {"datum": 54}}},
           {"data": {"name": "quads"}, "transform": [{"filter": "datum.p == '22' && datum.q == 'UL'"}], "mark": {"type": "text", "align": "left", "baseline": "top", "fontSize": 14}, "encoding": {"x": {"datum": 2.5}, "y": {"datum": 97.5}, "text": {"field": "v"}}},
           {"data": {"name": "quads"}, "transform": [{"filter": "datum.p == '22' && datum.q == 'UR'"}], "mark": {"type": "text", "align": "right", "baseline": "top", "fontSize": 14}, "encoding": {"x": {"datum": 98.3}, "y": {"datum": 97.5}, "text": {"field": "v"}}},
           {"data": {"name": "quads"}, "transform": [{"filter": "datum.p == '22' && datum.q == 'LR'"}], "mark": {"type": "text", "align": "right", "baseline": "alphabetic", "fontSize": 14}, "encoding": {"x": {"datum": 98.3}, "y": {"datum": 2}, "text": {"field": "v"}}},
           {"data": {"name": "quads"}, "transform": [{"filter": "datum.p == '22' && datum.q == 'LL'"}], "mark": {"type": "text", "align": "left", "baseline": "alphabetic", "fontSize": 13, "color": "white", "stroke": "white", "strokeWidth": 3}, "encoding": {"x": {"datum": 2.5}, "y": {"datum": 2}, "text": {"field": "v"}}},
           {"data": {"name": "quads"}, "transform": [{"filter": "datum.p == '22' && datum.q == 'LL'"}], "mark": {"type": "text", "align": "left", "baseline": "alphabetic", "fontSize": 13}, "encoding": {"x": {"datum": 2.5}, "y": {"datum": 2}, "text": {"field": "v"}}}
         ]},
        {"width": 103, "height": 108, "view": {"stroke": "#222", "strokeWidth": 1}, "data": {"values": [{}]},
         "layer": [
           {"data": {"name": "blobs"}, "transform": [{"filter": "datum.p == '23'"}], "mark": {"type": "area", "interpolate": "monotone", "color": "black", "clip": true},
            "encoding": {"x": {"field": "x", "type": "quantitative", "scale": {"domain": [0, 100], "nice": false, "zero": false}, "axis": {"tickCount": 12, "labels": false, "domain": false, "grid": false, "tickSize": 2.5, "tickWidth": 1, "tickColor": "#333", "title": null}},
                         "y": {"field": "hi", "type": "quantitative", "scale": {"domain": [0, 100], "nice": false, "zero": false}, "axis": {"tickCount": 12, "labels": false, "domain": false, "grid": false, "tickSize": 2.5, "tickWidth": 1, "tickColor": "#333", "title": null}},
                         "y2": {"field": "lo"}, "detail": {"field": "b"},
                         "opacity": {"field": "k", "type": "nominal", "scale": {"domain": ["core", "haze", "mist"], "range": [1, 0.36, 0.14]}, "legend": null}}},
           {"data": {"name": "dots"}, "transform": [{"filter": "datum.p == '23'"}], "mark": {"type": "square", "size": 3, "color": "black", "clip": true}, "encoding": {"x": {"field": "x", "type": "quantitative"}, "y": {"field": "y", "type": "quantitative"}}},
           {"mark": {"type": "rule", "color": "#333", "strokeWidth": 1}, "encoding": {"x": {"datum": 57.5}}},
           {"mark": {"type": "rule", "color": "#333", "strokeWidth": 1}, "encoding": {"y": {"datum": 54}}},
           {"data": {"name": "quads"}, "transform": [{"filter": "datum.p == '23' && datum.q == 'UL'"}], "mark": {"type": "text", "align": "left", "baseline": "top", "fontSize": 14}, "encoding": {"x": {"datum": 2.5}, "y": {"datum": 97.5}, "text": {"field": "v"}}},
           {"data": {"name": "quads"}, "transform": [{"filter": "datum.p == '23' && datum.q == 'UR'"}], "mark": {"type": "text", "align": "right", "baseline": "top", "fontSize": 14}, "encoding": {"x": {"datum": 98.3}, "y": {"datum": 97.5}, "text": {"field": "v"}}},
           {"data": {"name": "quads"}, "transform": [{"filter": "datum.p == '23' && datum.q == 'LR'"}], "mark": {"type": "text", "align": "right", "baseline": "alphabetic", "fontSize": 14}, "encoding": {"x": {"datum": 98.3}, "y": {"datum": 2}, "text": {"field": "v"}}},
           {"data": {"name": "quads"}, "transform": [{"filter": "datum.p == '23' && datum.q == 'LL'"}], "mark": {"type": "text", "align": "left", "baseline": "alphabetic", "fontSize": 13, "color": "white", "stroke": "white", "strokeWidth": 3}, "encoding": {"x": {"datum": 2.5}, "y": {"datum": 2}, "text": {"field": "v"}}},
           {"data": {"name": "quads"}, "transform": [{"filter": "datum.p == '23' && datum.q == 'LL'"}], "mark": {"type": "text", "align": "left", "baseline": "alphabetic", "fontSize": 13}, "encoding": {"x": {"datum": 2.5}, "y": {"datum": 2}, "text": {"field": "v"}}}
         ]},
        {"width": 103, "height": 108, "view": {"stroke": "#222", "strokeWidth": 1}, "data": {"values": [{}]},
         "layer": [
           {"data": {"name": "blobs"}, "transform": [{"filter": "datum.p == '24'"}], "mark": {"type": "area", "interpolate": "monotone", "color": "black", "clip": true},
            "encoding": {"x": {"field": "x", "type": "quantitative", "scale": {"domain": [0, 100], "nice": false, "zero": false}, "axis": {"tickCount": 12, "labels": false, "domain": false, "grid": false, "tickSize": 2.5, "tickWidth": 1, "tickColor": "#333", "title": null}},
                         "y": {"field": "hi", "type": "quantitative", "scale": {"domain": [0, 100], "nice": false, "zero": false}, "axis": {"tickCount": 12, "labels": false, "domain": false, "grid": false, "tickSize": 2.5, "tickWidth": 1, "tickColor": "#333", "title": null}},
                         "y2": {"field": "lo"}, "detail": {"field": "b"},
                         "opacity": {"field": "k", "type": "nominal", "scale": {"domain": ["core", "haze", "mist"], "range": [1, 0.36, 0.14]}, "legend": null}}},
           {"data": {"name": "dots"}, "transform": [{"filter": "datum.p == '24'"}], "mark": {"type": "square", "size": 3, "color": "black", "clip": true}, "encoding": {"x": {"field": "x", "type": "quantitative"}, "y": {"field": "y", "type": "quantitative"}}},
           {"mark": {"type": "rule", "color": "#333", "strokeWidth": 1}, "encoding": {"x": {"datum": 57.5}}},
           {"mark": {"type": "rule", "color": "#333", "strokeWidth": 1}, "encoding": {"y": {"datum": 54}}},
           {"data": {"name": "quads"}, "transform": [{"filter": "datum.p == '24' && datum.q == 'UL'"}], "mark": {"type": "text", "align": "left", "baseline": "top", "fontSize": 14}, "encoding": {"x": {"datum": 2.5}, "y": {"datum": 97.5}, "text": {"field": "v"}}},
           {"data": {"name": "quads"}, "transform": [{"filter": "datum.p == '24' && datum.q == 'UR'"}], "mark": {"type": "text", "align": "right", "baseline": "top", "fontSize": 14}, "encoding": {"x": {"datum": 98.3}, "y": {"datum": 97.5}, "text": {"field": "v"}}},
           {"data": {"name": "quads"}, "transform": [{"filter": "datum.p == '24' && datum.q == 'LR'"}], "mark": {"type": "text", "align": "right", "baseline": "alphabetic", "fontSize": 14}, "encoding": {"x": {"datum": 98.3}, "y": {"datum": 2}, "text": {"field": "v"}}},
           {"data": {"name": "quads"}, "transform": [{"filter": "datum.p == '24' && datum.q == 'LL'"}], "mark": {"type": "text", "align": "left", "baseline": "alphabetic", "fontSize": 13, "color": "white", "stroke": "white", "strokeWidth": 3}, "encoding": {"x": {"datum": 2.5}, "y": {"datum": 2}, "text": {"field": "v"}}},
           {"data": {"name": "quads"}, "transform": [{"filter": "datum.p == '24' && datum.q == 'LL'"}], "mark": {"type": "text", "align": "left", "baseline": "alphabetic", "fontSize": 13}, "encoding": {"x": {"datum": 2.5}, "y": {"datum": 2}, "text": {"field": "v"}}}
         ]}
      ], "spacing": 7, "bounds": "flush"}
    ], "spacing": 1}
  ], "spacing": 0, "bounds": "flush"},

  {"hconcat": [
    {"width": 75, "height": 33, "data": {"values": [{}]},
     "mark": {"type": "text", "text": "B", "fontSize": 14, "fontWeight": "bold", "align": "left", "baseline": "alphabetic"},
     "encoding": {"x": {"datum": 30, "type": "quantitative", "scale": {"domain": [0, 75], "nice": false, "zero": false}, "axis": null},
                  "y": {"datum": 29, "type": "quantitative", "scale": {"domain": [33, 0], "nice": false, "zero": false}, "axis": null}}},
    {"width": 392, "height": 33, "data": {"values": [{}]},
     "layer": [
       {"mark": {"type": "rule", "strokeWidth": 1.5, "color": "black"},
        "encoding": {"x": {"datum": 0, "type": "quantitative", "scale": {"domain": [0, 392], "nice": false, "zero": false}, "axis": null}, "x2": {"datum": 177},
                     "y": {"datum": 10.3, "type": "quantitative", "scale": {"domain": [33, 0], "nice": false, "zero": false}, "axis": null}}},
       {"mark": {"type": "rule", "strokeWidth": 1.5, "color": "black"}, "encoding": {"x": {"datum": 215}, "x2": {"datum": 392}, "y": {"datum": 10.3}}},
       {"mark": {"type": "text", "text": "IFN-γ", "fontSize": 12, "align": "center", "baseline": "middle"}, "encoding": {"x": {"datum": 196}, "y": {"datum": 10.3}}}
     ]}
  ], "spacing": 0, "bounds": "flush"},

  {"hconcat": [
    {"width": 72.7, "height": 264, "data": {"values": []}, "mark": "point"},
    {"width": 180, "height": 192,
     "data": {"values": [
       {"g": "No Rx", "m": 34900, "hi": 43100},
       {"g": "L", "m": 6270, "hi": 8260},
       {"g": "C", "m": 32400, "hi": 42500},
       {"g": "C + L", "m": 1250, "hi": 1660}
     ]},
     "resolve": {"scale": {"x": "independent"}},
     "layer": [
       {"layer": [
         {"mark": {"type": "bar", "strokeWidth": 2},
          "encoding": {
            "x": {"field": "g", "type": "nominal", "sort": null, "scale": {"domain": ["No Rx", "L", "C", "C + L"], "paddingInner": 0.32, "paddingOuter": 0.19, "align": 0.37},
                  "axis": {"title": null, "labelAngle": 0, "labelFontSize": 12.5, "labelFontWeight": "bold", "domainWidth": 2.5, "tickWidth": 2.5, "tickSize": 5, "labelPadding": 2}},
            "y": {"field": "m", "type": "quantitative", "scale": {"domain": [0, 10000, 21800, 45300], "range": [192, 64, 52, 12], "nice": false, "zero": false},
                  "axis": {"tickCount": 10, "tickMinStep": 5000, "format": "d",
                           "labelExpr": "indexof([0, 5000, 10000, 30000, 40000], datum.value) >= 0 ? datum.label : ''",
                           "tickOpacity": {"condition": {"test": "indexof([0, 5000, 10000, 20000, 30000, 40000], datum.value) >= 0", "value": 1}, "value": 0},
                           "domain": false, "tickSize": 4, "tickWidth": 2.5, "labelFontSize": 11.5, "labelFontWeight": "bold", "labelPadding": 1, "labelOverlap": false, "labelSeparation": -40, "title": "Number of IFN-γ+ TNF+ cells", "titleFontSize": 13.5, "titleFontWeight": "bold", "titlePadding": 5}},
            "y2": {"datum": 0},
            "fill": {"field": "g", "type": "nominal", "scale": {"domain": ["No Rx", "L", "C", "C + L", "No Treatment", "Anti LFA-1", "CTLA-4 Ig", "CTLA-4 Ig + Anti LFA-1"], "range": ["black", "#a3a3a3", "white", "white", "white", "#a3a3a3", "white", "black"]}, "legend": null},
            "stroke": {"field": "g", "type": "nominal", "scale": {"domain": ["No Rx", "L", "C", "C + L"], "range": ["black", "#a3a3a3", "black", "black"]}, "legend": null}}},
         {"transform": [{"filter": "datum.g == 'C + L'"}],
          "mark": {"type": "bar", "stroke": "black", "strokeWidth": 2,
                   "fill": {"gradient": "linear", "x1": 0, "y1": 0, "x2": 1, "y2": 0, "stops": [
                     {"offset": 0, "color": "white"}, {"offset": 0.17, "color": "white"}, {"offset": 0.17, "color": "black"}, {"offset": 0.23, "color": "black"}, {"offset": 0.23, "color": "white"},
                     {"offset": 0.37, "color": "white"}, {"offset": 0.37, "color": "black"}, {"offset": 0.43, "color": "black"}, {"offset": 0.43, "color": "white"},
                     {"offset": 0.57, "color": "white"}, {"offset": 0.57, "color": "black"}, {"offset": 0.63, "color": "black"}, {"offset": 0.63, "color": "white"},
                     {"offset": 0.77, "color": "white"}, {"offset": 0.77, "color": "black"}, {"offset": 0.83, "color": "black"}, {"offset": 0.83, "color": "white"}, {"offset": 1, "color": "white"}]}},
          "encoding": {"x": {"field": "g", "type": "nominal", "sort": null}, "y": {"field": "m", "type": "quantitative"}, "y2": {"datum": 0}}},
         {"mark": {"type": "rule", "strokeWidth": 2.5, "color": "black"}, "encoding": {"x": {"field": "g", "type": "nominal", "sort": null}, "y": {"field": "m", "type": "quantitative"}, "y2": {"field": "hi"}}},
         {"mark": {"type": "tick", "thickness": 2.5, "size": 20, "color": "black"}, "encoding": {"x": {"field": "g", "type": "nominal", "sort": null}, "y": {"field": "hi", "type": "quantitative"}}},
         {"transform": [{"filter": "datum.g == 'C + L'"}], "mark": {"type": "text", "text": "*", "fontSize": 17, "fontWeight": "bold", "baseline": "alphabetic", "dy": -4.5},
          "encoding": {"x": {"field": "g", "type": "nominal", "sort": null}, "y": {"field": "hi", "type": "quantitative"}}},
         {"mark": {"type": "rect", "color": "white"}, "encoding": {"y": {"datum": 10000}, "y2": {"datum": 21800}}}
       ]},
       {"mark": {"type": "rule", "strokeWidth": 2.5, "color": "black"},
        "encoding": {"x": {"datum": 0, "type": "quantitative", "scale": {"domain": [0, 1]}, "axis": null},
                     "y": {"datum": 0, "type": "quantitative"}, "y2": {"datum": 10000}}},
       {"mark": {"type": "rule", "strokeWidth": 2.5, "color": "black"},
        "encoding": {"x": {"datum": 0, "type": "quantitative", "scale": {"domain": [0, 1]}, "axis": null},
                     "y": {"datum": 21800, "type": "quantitative"}, "y2": {"datum": 45300}}}
     ]},
    {"width": 87.3, "height": 1, "data": {"values": []}, "mark": "point"},
    {"width": 179, "height": 187,
     "data": {"values": [
       {"g": "No Rx", "m": 27290, "hi": 32040},
       {"g": "L", "m": 25010, "hi": 28820},
       {"g": "C", "m": 29500, "hi": 34110},
       {"g": "C + L", "m": 8480, "hi": 10420}
     ]},
     "resolve": {"scale": {"x": "independent"}},
     "layer": [
       {"layer": [
         {"mark": {"type": "bar", "strokeWidth": 2},
          "encoding": {
            "x": {"field": "g", "type": "nominal", "sort": null, "scale": {"domain": ["No Rx", "L", "C", "C + L"], "paddingInner": 0.3, "paddingOuter": 0.23, "align": 0.68},
                  "axis": {"title": null, "labelAngle": 0, "labelFontSize": 12.5, "labelFontWeight": "bold", "domainWidth": 2.5, "tickWidth": 2.5, "tickSize": 5, "labelPadding": 2}},
            "y": {"field": "m", "type": "quantitative", "scale": {"domain": [0, 38566], "nice": false, "zero": false},
                  "axis": {"tickCount": 8, "tickMinStep": 5000, "format": "d", "domain": false, "tickSize": 4, "tickWidth": 2.5, "labelFontSize": 11.5, "labelFontWeight": "bold", "labelPadding": 1, "labelOverlap": false, "labelSeparation": -40, "title": ["Number of IFN-γ+", "single producers"], "titleLineHeight": 15, "titleFontSize": 13.5, "titleFontWeight": "bold", "titlePadding": 5}},
            "y2": {"datum": 0},
            "fill": {"field": "g", "type": "nominal", "scale": {"domain": ["No Rx", "L", "C", "C + L", "No Treatment", "Anti LFA-1", "CTLA-4 Ig", "CTLA-4 Ig + Anti LFA-1"], "range": ["black", "#a3a3a3", "white", "white", "white", "#a3a3a3", "white", "black"]}, "legend": null},
            "stroke": {"field": "g", "type": "nominal", "scale": {"domain": ["No Rx", "L", "C", "C + L"], "range": ["black", "#a3a3a3", "black", "black"]}, "legend": null}}},
         {"transform": [{"filter": "datum.g == 'C + L'"}],
          "mark": {"type": "bar", "stroke": "black", "strokeWidth": 2,
                   "fill": {"gradient": "linear", "x1": 0, "y1": 0, "x2": 1, "y2": 0, "stops": [
                     {"offset": 0, "color": "white"}, {"offset": 0.17, "color": "white"}, {"offset": 0.17, "color": "black"}, {"offset": 0.23, "color": "black"}, {"offset": 0.23, "color": "white"},
                     {"offset": 0.37, "color": "white"}, {"offset": 0.37, "color": "black"}, {"offset": 0.43, "color": "black"}, {"offset": 0.43, "color": "white"},
                     {"offset": 0.57, "color": "white"}, {"offset": 0.57, "color": "black"}, {"offset": 0.63, "color": "black"}, {"offset": 0.63, "color": "white"},
                     {"offset": 0.77, "color": "white"}, {"offset": 0.77, "color": "black"}, {"offset": 0.83, "color": "black"}, {"offset": 0.83, "color": "white"}, {"offset": 1, "color": "white"}]}},
          "encoding": {"x": {"field": "g", "type": "nominal", "sort": null}, "y": {"field": "m", "type": "quantitative"}, "y2": {"datum": 0}}},
         {"mark": {"type": "rule", "strokeWidth": 2.5, "color": "black"}, "encoding": {"x": {"field": "g", "type": "nominal", "sort": null}, "y": {"field": "m", "type": "quantitative"}, "y2": {"field": "hi"}}},
         {"mark": {"type": "tick", "thickness": 2.5, "size": 18, "color": "black"}, "encoding": {"x": {"field": "g", "type": "nominal", "sort": null}, "y": {"field": "hi", "type": "quantitative"}}},
         {"transform": [{"filter": "datum.g == 'C + L'"}], "mark": {"type": "text", "text": "*", "fontSize": 17, "fontWeight": "bold", "baseline": "alphabetic", "dy": -2},
          "encoding": {"x": {"field": "g", "type": "nominal", "sort": null}, "y": {"field": "hi", "type": "quantitative"}}}
       ]},
       {"mark": {"type": "rule", "strokeWidth": 2.5, "color": "black"},
        "encoding": {"x": {"datum": 0, "type": "quantitative", "scale": {"domain": [0, 1]}, "axis": null},
                     "y": {"datum": 0, "type": "quantitative"}, "y2": {"datum": 35000}}}
     ]}
  ], "spacing": 0, "bounds": "flush"},

  {"hconcat": [
    {"width": 127, "height": 168, "data": {"values": [{}]},
     "mark": {"type": "text", "text": "C", "fontSize": 13, "fontWeight": "bold", "align": "left", "baseline": "alphabetic"},
     "encoding": {"x": {"datum": 40, "type": "quantitative", "scale": {"domain": [0, 127], "nice": false, "zero": false}, "axis": null},
                  "y": {"datum": 13, "type": "quantitative", "scale": {"domain": [168, 0], "nice": false, "zero": false}, "axis": null}}},
    {"width": 230, "height": 168,
     "data": {"values": [
       {"t": "No Treatment", "m": 53.4, "hi": 72.6},
       {"t": "Anti LFA-1", "m": 692, "hi": 1253},
       {"t": "CTLA-4 Ig", "m": 38.2, "hi": 42.4},
       {"t": "CTLA-4 Ig + Anti LFA-1", "m": 927, "hi": 1290}
     ]},
     "resolve": {"scale": {"x": "independent"}},
     "layer": [
       {"layer": [
         {"mark": {"type": "bar", "stroke": "black", "strokeWidth": 2.5},
          "encoding": {
            "x": {"field": "t", "type": "nominal", "sort": null, "scale": {"domain": ["No Treatment", "Anti LFA-1", "CTLA-4 Ig", "CTLA-4 Ig + Anti LFA-1"], "paddingInner": 0.085, "paddingOuter": 0.066, "align": 0.33},
                  "axis": {"title": null, "labels": false, "ticks": false, "domainWidth": 3}},
            "y": {"field": "m", "type": "quantitative", "scale": {"type": "log", "domain": [10, 21770], "nice": false},
                  "axis": {"values": [10, 100, 1000, 10000], "format": "d", "domain": false, "labelFontSize": 10.5, "labelFontWeight": "bold", "tickSize": 5, "tickWidth": 2.5, "labelPadding": 1, "labelOverlap": false, "title": "Treg : IFNγ⁺ TNF⁺ Effectors", "titleFontSize": 11.5, "titleFontWeight": "bold", "titlePadding": 10, "titleY": 91}},
            "y2": {"datum": 10},
            "fill": {"field": "t", "type": "nominal", "scale": {"domain": ["No Rx", "L", "C", "C + L", "No Treatment", "Anti LFA-1", "CTLA-4 Ig", "CTLA-4 Ig + Anti LFA-1"], "range": ["black", "#a3a3a3", "white", "white", "white", "#a3a3a3", "white", "black"]}, "legend": null}}},
         {"transform": [{"filter": "datum.t == 'CTLA-4 Ig'"}],
          "mark": {"type": "bar", "stroke": "black", "strokeWidth": 2.5,
                   "fill": {"gradient": "linear", "x1": 0, "y1": 0, "x2": 0, "y2": 1, "stops": [
                     {"offset": 0, "color": "white"}, {"offset": 0.118, "color": "white"}, {"offset": 0.118, "color": "black"}, {"offset": 0.168, "color": "black"}, {"offset": 0.168, "color": "white"},
                     {"offset": 0.261, "color": "white"}, {"offset": 0.261, "color": "black"}, {"offset": 0.311, "color": "black"}, {"offset": 0.311, "color": "white"},
                     {"offset": 0.404, "color": "white"}, {"offset": 0.404, "color": "black"}, {"offset": 0.454, "color": "black"}, {"offset": 0.454, "color": "white"},
                     {"offset": 0.546, "color": "white"}, {"offset": 0.546, "color": "black"}, {"offset": 0.596, "color": "black"}, {"offset": 0.596, "color": "white"},
                     {"offset": 0.689, "color": "white"}, {"offset": 0.689, "color": "black"}, {"offset": 0.739, "color": "black"}, {"offset": 0.739, "color": "white"},
                     {"offset": 0.832, "color": "white"}, {"offset": 0.832, "color": "black"}, {"offset": 0.882, "color": "black"}, {"offset": 0.882, "color": "white"}, {"offset": 1, "color": "white"}]}},
          "encoding": {"x": {"field": "t", "type": "nominal", "sort": null}, "y": {"field": "m", "type": "quantitative"}, "y2": {"datum": 10}}},
         {"mark": {"type": "rule", "strokeWidth": 2.5, "color": "black"}, "encoding": {"x": {"field": "t", "type": "nominal", "sort": null}, "y": {"field": "m", "type": "quantitative"}, "y2": {"field": "hi"}}},
         {"mark": {"type": "tick", "thickness": 2.5, "size": 21, "color": "black"}, "encoding": {"x": {"field": "t", "type": "nominal", "sort": null}, "y": {"field": "hi", "type": "quantitative"}}},
         {"transform": [{"filter": "datum.t == 'Anti LFA-1' || datum.t == 'CTLA-4 Ig + Anti LFA-1'"}], "mark": {"type": "text", "text": "*", "fontSize": 14, "baseline": "alphabetic", "dy": -7},
          "encoding": {"x": {"field": "t", "type": "nominal", "sort": null}, "y": {"field": "hi", "type": "quantitative"}}}
       ]},
       {"mark": {"type": "rule", "strokeWidth": 3, "color": "black"},
        "encoding": {"x": {"datum": 0, "type": "quantitative", "scale": {"domain": [0, 1]}, "axis": null},
                     "y": {"datum": 10, "type": "quantitative"}, "y2": {"datum": 10000}}}
     ]},
    {"width": 1, "height": 1, "data": {"values": []}, "mark": "point"},
    {"width": 155, "height": 168,
     "data": {"values": [{"t": "No Treatment"}, {"t": "Anti LFA-1"}, {"t": "CTLA-4 Ig"}, {"t": "CTLA-4 Ig + Anti LFA-1"}]},
     "layer": [
       {"mark": {"type": "bar", "stroke": "black", "strokeWidth": 2.5},
        "encoding": {
          "y": {"field": "t", "type": "nominal", "sort": null, "scale": {"domain": ["No Treatment", "Anti LFA-1", "CTLA-4 Ig", "CTLA-4 Ig + Anti LFA-1"], "range": [-2.25, 71.75], "paddingInner": 0.4, "paddingOuter": 0.2}, "axis": null},
          "x": {"datum": 0, "type": "quantitative", "scale": {"domain": [0, 155], "nice": false, "zero": false}, "axis": null},
          "x2": {"datum": 23},
          "fill": {"field": "t", "type": "nominal", "scale": {"domain": ["No Rx", "L", "C", "C + L", "No Treatment", "Anti LFA-1", "CTLA-4 Ig", "CTLA-4 Ig + Anti LFA-1"], "range": ["black", "#a3a3a3", "white", "white", "white", "#a3a3a3", "white", "black"]}, "legend": null}}},
       {"transform": [{"filter": "datum.t == 'CTLA-4 Ig'"}],
        "mark": {"type": "bar", "stroke": "black", "strokeWidth": 2.5,
                 "fill": {"gradient": "linear", "x1": 0, "y1": 0, "x2": 0, "y2": 1, "stops": [
                   {"offset": 0, "color": "white"}, {"offset": 0.28, "color": "white"}, {"offset": 0.28, "color": "black"}, {"offset": 0.4, "color": "black"}, {"offset": 0.4, "color": "white"},
                   {"offset": 0.6, "color": "white"}, {"offset": 0.6, "color": "black"}, {"offset": 0.72, "color": "black"}, {"offset": 0.72, "color": "white"}, {"offset": 1, "color": "white"}]}},
        "encoding": {"y": {"field": "t", "type": "nominal", "sort": null}, "x": {"datum": 0, "type": "quantitative"}, "x2": {"datum": 23}}},
       {"mark": {"type": "text", "align": "left", "baseline": "middle", "fontSize": 11.5},
        "encoding": {"y": {"field": "t", "type": "nominal", "sort": null}, "x": {"datum": 27, "type": "quantitative"}, "text": {"field": "t"}}}
     ]}
  ], "spacing": 0, "bounds": "flush"}
]
}
